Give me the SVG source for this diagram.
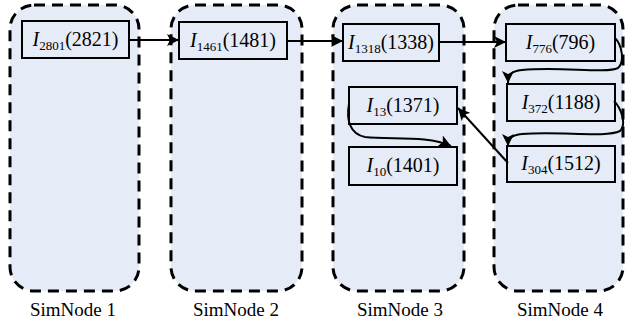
<svg xmlns="http://www.w3.org/2000/svg" width="628" height="323" viewBox="0 0 628 323">
<defs>
<style>
.sim{fill:#e6ecf7;stroke:#000;stroke-width:3;stroke-dasharray:11 7}
.box{fill:#e6ecf7;stroke:#000;stroke-width:2}
.t{font-family:"Liberation Serif","Times New Roman",serif;font-size:20px;fill:#000;text-anchor:middle}
.i{font-style:italic}
.sub{font-size:13px}
.lbl{font-family:"Liberation Serif","Times New Roman",serif;font-size:19px;fill:#000;text-anchor:middle}
.c{fill:none;stroke:#000;stroke-width:2;marker-end:url(#ah)}
</style>
<marker id="ah" markerUnits="userSpaceOnUse" markerWidth="14" markerHeight="12" refX="12" refY="6" orient="auto">
<path d="M0,0 L12,6 L0,12 L3,6 Z" fill="#000"/>
</marker>
</defs>
<rect width="628" height="323" fill="#fff"/>
<g id="simnode1"><rect class="sim" x="10" y="5" width="129" height="286" rx="24"/><text class="lbl" x="73" y="316">SimNode 1</text></g>
<g id="simnode2"><rect class="sim" x="171" y="5" width="131" height="286" rx="24"/><text class="lbl" x="236" y="316">SimNode 2</text></g>
<g id="simnode3"><rect class="sim" x="333" y="5" width="131" height="286" rx="24"/><text class="lbl" x="400" y="316">SimNode 3</text></g>
<g id="simnode4"><rect class="sim" x="494" y="5" width="129" height="286" rx="24"/><text class="lbl" x="560" y="316">SimNode 4</text></g>

<g id="n2801"><rect class="box" x="22" y="21" width="107" height="37"/><text class="t" x="75.5" y="46"><tspan class="i">I</tspan><tspan class="sub" dy="4">2801</tspan><tspan dy="-4">(2821)</tspan></text></g>
<g id="n1461"><rect class="box" x="179" y="22" width="108" height="37"/><text class="t" x="233" y="47"><tspan class="i">I</tspan><tspan class="sub" dy="4">1461</tspan><tspan dy="-4">(1481)</tspan></text></g>
<g id="n1318"><rect class="box" x="343" y="24" width="96" height="37"/><text class="t" x="391" y="49"><tspan class="i">I</tspan><tspan class="sub" dy="4">1318</tspan><tspan dy="-4">(1338)</tspan></text></g>
<g id="n776"><rect class="box" x="506" y="24" width="109" height="37"/><text class="t" x="560.5" y="49"><tspan class="i">I</tspan><tspan class="sub" dy="4">776</tspan><tspan dy="-4">(796)</tspan></text></g>
<g id="n13"><rect class="box" x="349" y="87" width="108" height="37"/><text class="t" x="403" y="112"><tspan class="i">I</tspan><tspan class="sub" dy="4">13</tspan><tspan dy="-4">(1371)</tspan></text></g>
<g id="n372"><rect class="box" x="507" y="84" width="108" height="37"/><text class="t" x="561" y="109"><tspan class="i">I</tspan><tspan class="sub" dy="4">372</tspan><tspan dy="-4">(1188)</tspan></text></g>
<g id="n10"><rect class="box" x="349" y="147" width="108" height="38"/><text class="t" x="403" y="172"><tspan class="i">I</tspan><tspan class="sub" dy="4">10</tspan><tspan dy="-4">(1401)</tspan></text></g>
<g id="n304"><rect class="box" x="507" y="146" width="108" height="36"/><text class="t" x="561" y="170"><tspan class="i">I</tspan><tspan class="sub" dy="4">304</tspan><tspan dy="-4">(1512)</tspan></text></g>

<g id="connectors">
<path class="c" d="M129,40 L179,40"/>
<path class="c" d="M287,41 L343,41"/>
<path class="c" d="M439,42 L506,42"/>
<path class="c" d="M615,38 C622,45 625,62 618,68 C605,74 560,66 522,70 C511,71 508,75 508,83"/>
<path class="c" d="M614,101 C621,108 627,124 620,131 C606,138 560,131 522,134 C511,135 508,139 508,146"/>
<path class="c" d="M508,163 L458,108"/>
<path class="c" d="M349,104 C346,120 350,134 365,137 C390,140 428,135 451,146"/>
</g>
</svg>
